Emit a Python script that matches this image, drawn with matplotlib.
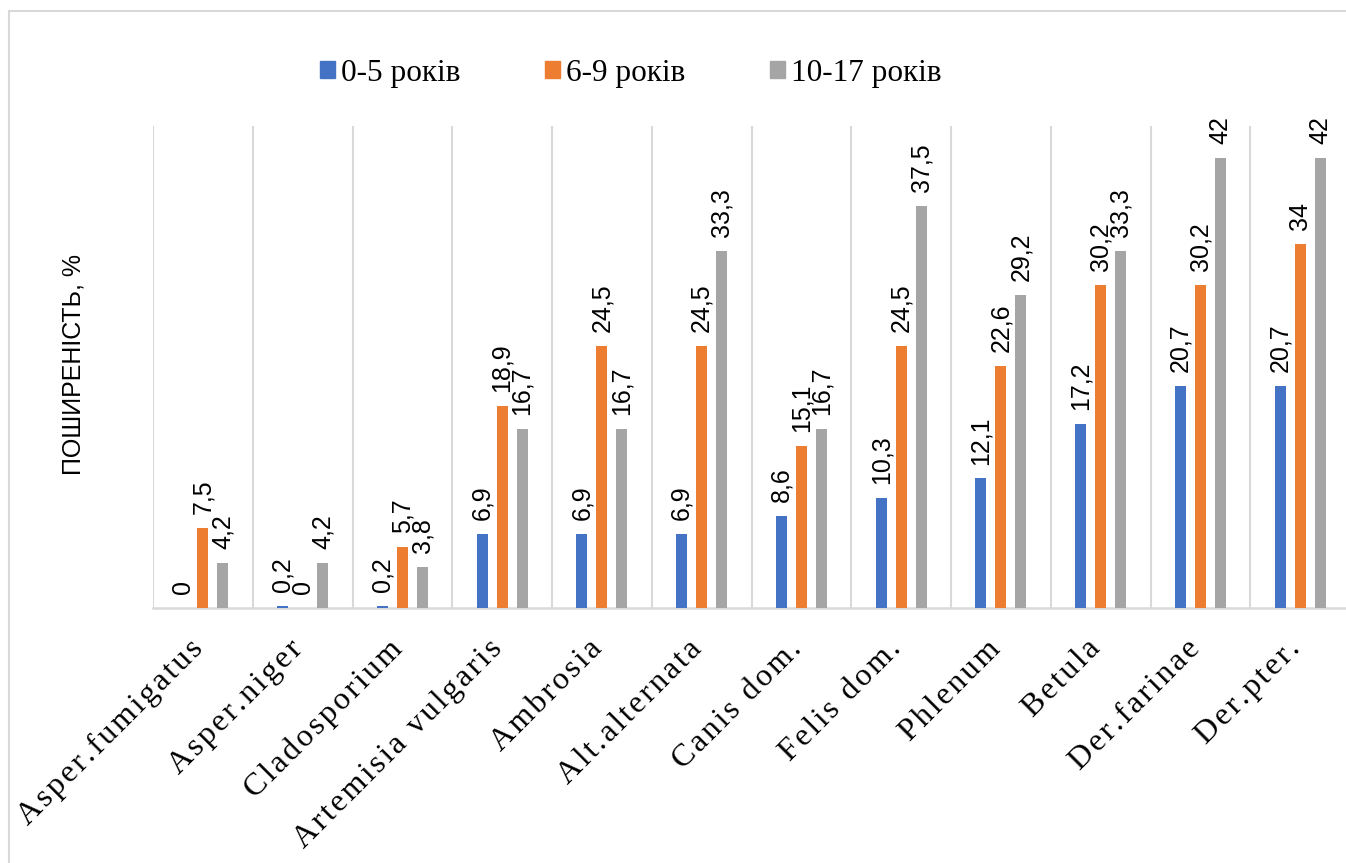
import numpy as np
import matplotlib
matplotlib.use('Agg')
import matplotlib.pyplot as plt
import matplotlib.transforms as mtransforms
from matplotlib.patches import Patch, Rectangle

categories = ['Asper.fumigatus', 'Asper.niger', 'Cladosporium', 'Artemisia vulgaris',
              'Ambrosia', 'Alt.alternata', 'Canis dom.', 'Felis dom.', 'Phlenum',
              'Betula', 'Der.farinae', 'Der.pter.']
age_0_5 = [0, 0.2, 0.2, 6.9, 6.9, 6.9, 8.6, 10.3, 12.1, 17.2, 20.7, 20.7]
age_6_9 = [7.5, 0, 5.7, 18.9, 24.5, 24.5, 15.1, 24.5, 22.6, 30.2, 30.2, 34]
age_10_17 = [4.2, 4.2, 3.8, 16.7, 16.7, 33.3, 16.7, 37.5, 29.2, 33.3, 42, 42]
series_names = ['0-5 років', '6-9 років', '10-17 років']
colors = ['#4472C4', '#ED7D31', '#A5A5A5']

W, H = 1346, 863
fig = plt.figure(figsize=(W / 100, H / 100), dpi=100)
ax = fig.add_axes([153 / W, 1 - 608 / H, 1197 / W, 482 / H])

x = np.arange(len(categories))
width = 0.11
offsets = [-0.2, 0, 0.2]

def fmt(v):
    if float(v).is_integer():
        return str(int(v))
    return str(v).replace('.', ',')

for vals, off, col in zip([age_0_5, age_6_9, age_10_17], offsets, colors):
    bars = ax.bar(x + off, vals, width, color=col, zorder=3)
    for b, v in zip(bars, vals):
        ax.annotate(fmt(v), (b.get_x() + b.get_width() / 2, b.get_height()),
                    xytext=(0, 10), textcoords='offset points',
                    ha='center', va='bottom', rotation=90,
                    fontsize=18, family='Liberation Sans', color='black')

ax.set_xlim(-0.5, len(categories) - 0.5)
ax.set_ylim(0, 45)
ax.set_yticks([])
for s in ['left', 'top', 'right']:
    ax.spines[s].set_visible(False)
ax.spines['bottom'].set_color('#D9D9D9')
ax.spines['bottom'].set_linewidth(1.8)

ax.set_xticks(np.arange(-0.5, len(categories), 1), minor=True)
ax.grid(which='minor', axis='x', color='#D9D9D9', linewidth=1.5, zorder=0)
ax.tick_params(which='both', length=0)

# spaced-out category labels
spaced = ['\u200a'.join(list(c)) for c in categories]
ax.set_xticks(x)
ax.set_xticklabels(spaced, rotation=45, ha='right', fontsize=23,
                   family='Liberation Serif')
ax.tick_params(axis='x', pad=19)
shift = mtransforms.ScaledTranslation(6 / 100, 0, fig.dpi_scale_trans)
for lbl in ax.get_xticklabels():
    lbl.set_transform(lbl.get_transform() + shift)

fig.text(73 / W, 1 - 364 / H, 'ПОШИРЕНІСТЬ, %', rotation=90, ha='center', va='center',
         fontsize=18, family='Liberation Sans')

handles = [Patch(color=c, label=n) for c, n in zip(colors, series_names)]
fig.legend(handles=handles, loc='center', bbox_to_anchor=(631 / W, 1 - 73 / H),
           ncol=3, frameon=False, prop={'family': 'Liberation Serif', 'size': 22.5},
           handlelength=0.48, handleheight=0.48, handletextpad=0.2, columnspacing=2.7)

fig.add_artist(Rectangle((9 / W, -0.05), 1.2, 1 - 11 / H + 0.05, transform=fig.transFigure,
                         fill=False, edgecolor='#D9D9D9', linewidth=1.5))

fig.savefig('out.png', dpi=100)
